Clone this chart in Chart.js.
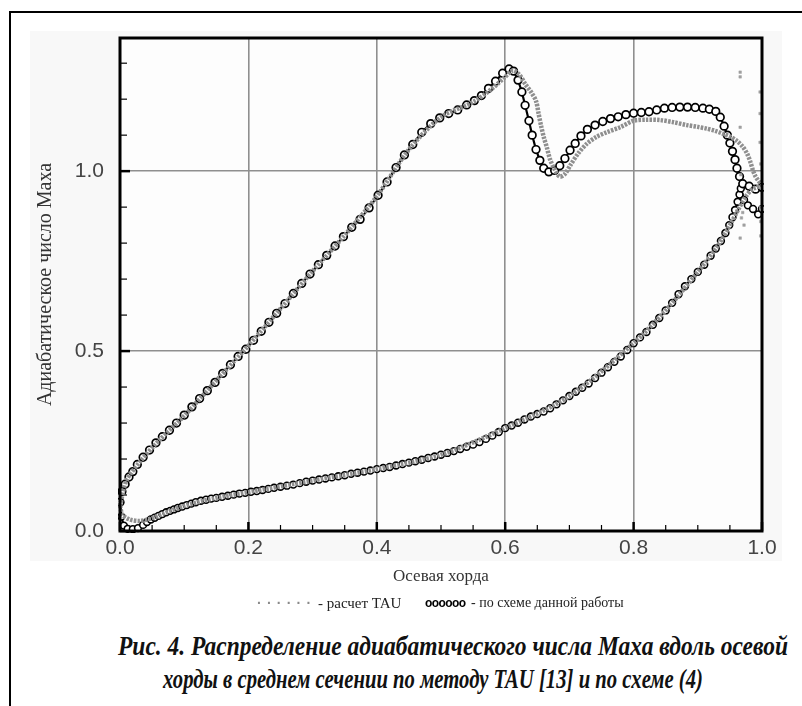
<!DOCTYPE html>
<html>
<head>
<meta charset="utf-8">
<script src="https://cdn.jsdelivr.net/npm/chart.js@4.4.1/dist/chart.umd.min.js"></script>
<style>
  body { margin: 0; background: #fff; width: 802px; height: 706px; overflow: hidden; position: relative; }
  #frame { position: absolute; left: 9px; top: 11px; width: 800px; height: 700px; border-top: 2px solid #000; border-left: 2px solid #000; }
  #panel { position: absolute; left: 30px; top: 31px; width: 752px; height: 530px; background: #f8f8f8; }
  #wrap { position: absolute; left: 0; top: 0; width: 802px; height: 600px; }
  .lg { position: absolute; top: 595px; font: 15px "Liberation Serif", "DejaVu Serif", serif; color: #222; white-space: nowrap; }
  .dots { color: #8a8a8a; font: bold 14px "Liberation Sans", sans-serif; letter-spacing: 6px; top: 591px; }
  .rings { font: bold 12px "Liberation Sans", sans-serif; letter-spacing: -0.6px; color: #000; top: 596px; }
  .cap { position: absolute; left: 0; font: italic bold 27px "Liberation Serif", "DejaVu Serif", serif; color: #111; white-space: nowrap; transform-origin: 0 0; }
</style>
</head>
<body>
<div id="frame"></div>
<div id="panel"></div>
<div id="wrap"><canvas id="myChart"></canvas></div>
<span class="lg dots" style="left:257px">......</span>
<span class="lg" style="left:318px">- расчет TAU</span>
<span class="lg rings" style="left:425px">oooooo</span>
<span class="lg" style="left:471px; font-size:14px">- по схеме данной работы</span>
<div class="cap" id="cap1" data-left="118" data-width="670" style="top:631px">Рис. 4. Распределение адиабатического числа Маха вдоль осевой</div>
<div class="cap" id="cap2" data-left="163" data-width="540" style="top:664px">хорды в среднем сечении по методу TAU [13] и по схеме (4)</div>
<script>
// axis chord values and adiabatic Mach number
let upperX = [0.000, 0.003, 0.008, 0.014, 0.020, 0.027, 0.036, 0.046, 0.056, 0.066, 0.077, 0.088, 0.100, 0.112, 0.124, 0.136, 0.148, 0.160, 0.172, 0.184, 0.196, 0.208, 0.220, 0.232, 0.244, 0.257, 0.270, 0.283, 0.296, 0.309, 0.322, 0.335, 0.348, 0.361, 0.374, 0.388, 0.402, 0.416, 0.430, 0.443, 0.456, 0.470, 0.484, 0.498, 0.512, 0.526, 0.540, 0.552, 0.563, 0.574, 0.585, 0.596, 0.606, 0.613, 0.620, 0.626, 0.631, 0.637, 0.642, 0.648, 0.654, 0.660, 0.668, 0.677, 0.685, 0.693, 0.701, 0.709, 0.718, 0.728, 0.740, 0.752, 0.764, 0.776, 0.788, 0.800, 0.812, 0.824, 0.836, 0.848, 0.860, 0.872, 0.884, 0.896, 0.908, 0.918, 0.928, 0.935, 0.941, 0.946, 0.950, 0.954, 0.958, 0.961, 0.965, 0.970, 0.980, 0.990, 1.000];
let upperM = [0.080, 0.110, 0.130, 0.150, 0.165, 0.185, 0.205, 0.225, 0.245, 0.262, 0.280, 0.300, 0.322, 0.345, 0.368, 0.390, 0.413, 0.438, 0.462, 0.485, 0.505, 0.530, 0.555, 0.580, 0.605, 0.632, 0.660, 0.688, 0.714, 0.740, 0.766, 0.792, 0.818, 0.844, 0.866, 0.898, 0.933, 0.970, 1.010, 1.045, 1.074, 1.108, 1.132, 1.148, 1.160, 1.170, 1.184, 1.196, 1.210, 1.230, 1.250, 1.272, 1.284, 1.278, 1.253, 1.220, 1.183, 1.140, 1.100, 1.060, 1.030, 1.008, 0.998, 1.002, 1.015, 1.035, 1.058, 1.077, 1.098, 1.116, 1.128, 1.138, 1.146, 1.151, 1.157, 1.161, 1.163, 1.165, 1.170, 1.175, 1.177, 1.178, 1.178, 1.177, 1.175, 1.172, 1.166, 1.150, 1.125, 1.100, 1.078, 1.055, 1.032, 1.008, 0.985, 0.965, 0.958, 0.950, 0.955];

let lowerX = [0.000, 0.002, 0.006, 0.012, 0.020, 0.028, 0.036, 0.042, 0.048, 0.054, 0.060, 0.066, 0.072, 0.078, 0.084, 0.090, 0.097, 0.104, 0.111, 0.118, 0.126, 0.134, 0.142, 0.150, 0.159, 0.168, 0.177, 0.186, 0.195, 0.204, 0.213, 0.222, 0.231, 0.240, 0.250, 0.260, 0.270, 0.280, 0.290, 0.300, 0.310, 0.320, 0.330, 0.340, 0.350, 0.360, 0.370, 0.380, 0.390, 0.400, 0.410, 0.420, 0.430, 0.440, 0.450, 0.460, 0.470, 0.480, 0.490, 0.500, 0.510, 0.520, 0.530, 0.540, 0.550, 0.560, 0.570, 0.580, 0.590, 0.600, 0.610, 0.620, 0.630, 0.640, 0.650, 0.660, 0.670, 0.680, 0.690, 0.700, 0.710, 0.720, 0.730, 0.740, 0.750, 0.760, 0.770, 0.780, 0.790, 0.800, 0.810, 0.820, 0.830, 0.840, 0.850, 0.860, 0.870, 0.880, 0.890, 0.900, 0.910, 0.920, 0.928, 0.936, 0.943, 0.949, 0.954, 0.958, 0.962, 0.965, 0.967, 0.972, 0.978, 0.986, 0.994, 1.000];
let lowerM = [0.080, 0.040, 0.015, 0.006, 0.005, 0.008, 0.017, 0.025, 0.032, 0.037, 0.042, 0.047, 0.052, 0.056, 0.060, 0.064, 0.068, 0.072, 0.076, 0.080, 0.084, 0.087, 0.090, 0.092, 0.095, 0.098, 0.101, 0.104, 0.106, 0.109, 0.111, 0.114, 0.117, 0.120, 0.123, 0.126, 0.129, 0.133, 0.137, 0.140, 0.143, 0.146, 0.149, 0.152, 0.155, 0.159, 0.162, 0.165, 0.168, 0.172, 0.175, 0.178, 0.182, 0.186, 0.190, 0.194, 0.198, 0.203, 0.207, 0.212, 0.217, 0.222, 0.228, 0.234, 0.240, 0.247, 0.256, 0.265, 0.275, 0.286, 0.293, 0.301, 0.310, 0.318, 0.325, 0.332, 0.341, 0.352, 0.363, 0.375, 0.387, 0.398, 0.410, 0.425, 0.440, 0.455, 0.470, 0.485, 0.503, 0.522, 0.538, 0.553, 0.573, 0.592, 0.613, 0.634, 0.658, 0.680, 0.700, 0.720, 0.740, 0.765, 0.785, 0.806, 0.828, 0.850, 0.872, 0.892, 0.915, 0.935, 0.952, 0.920, 0.905, 0.895, 0.880, 0.895];

// TAU reference calculation
let tauUpperX = [0.000, 0.010, 0.030, 0.060, 0.100, 0.150, 0.200, 0.250, 0.300, 0.350, 0.400, 0.450, 0.500, 0.550, 0.580, 0.600, 0.612, 0.622, 0.632, 0.641, 0.648, 0.652, 0.656, 0.660, 0.665, 0.670, 0.677, 0.685, 0.693, 0.702, 0.714, 0.727, 0.742, 0.758, 0.779, 0.800, 0.820, 0.841, 0.862, 0.883, 0.900, 0.914, 0.927, 0.939, 0.950, 0.961, 0.970, 0.977, 0.982, 0.986, 0.990, 0.995, 1.000];
let tauUpperM = [0.070, 0.140, 0.190, 0.250, 0.320, 0.418, 0.515, 0.618, 0.722, 0.822, 0.930, 1.060, 1.150, 1.192, 1.230, 1.262, 1.280, 1.268, 1.240, 1.218, 1.195, 1.160, 1.125, 1.095, 1.065, 1.032, 1.005, 0.985, 0.992, 1.018, 1.050, 1.076, 1.095, 1.108, 1.122, 1.140, 1.143, 1.142, 1.136, 1.128, 1.123, 1.118, 1.112, 1.104, 1.096, 1.084, 1.068, 1.048, 1.025, 1.002, 0.985, 0.972, 0.960];
let tauLowerX = [0.000, 0.004, 0.015, 0.030, 0.045, 0.070, 0.100, 0.150, 0.200, 0.300, 0.400, 0.500, 0.600, 0.700, 0.800, 0.850, 0.900, 0.930, 0.950, 0.965, 0.975, 0.985, 1.000];
let tauLowerM = [0.070, 0.045, 0.032, 0.028, 0.033, 0.050, 0.070, 0.092, 0.108, 0.140, 0.172, 0.212, 0.286, 0.375, 0.522, 0.613, 0.720, 0.790, 0.850, 0.900, 0.930, 0.950, 0.960];
let tauStrayX = [0.966, 0.966, 0.966, 0.967, 0.968, 0.970, 0.972, 0.966, 0.997, 0.997, 0.997, 0.998, 0.998, 0.998, 0.998];
let tauStrayM = [1.275, 1.262, 1.122, 0.990, 0.870, 0.885, 0.850, 0.814, 1.220, 1.160, 1.080, 1.020, 0.900, 0.860, 0.820];

// tick setup
let xStep = 0.05;
let yStep = 0.1;
let yMax = 1.37;

function zip(xs, ys) {
  let pts = [];
  for (i = 0; i < xs.length; i++) {
    pts.push({ x: xs[i], y: ys[i] });
  }
  return pts;
}

function isMult(v, m) {
  return Math.abs(v / m - Math.round(v / m)) < 1e-6;
}

document.addEventListener("DOMContentLoaded", function() {
  const gray = "#8f8f8f";

  // squeeze caption lines to the width they have in the scan
  document.querySelectorAll(".cap").forEach((el) => {
    const w = el.getBoundingClientRect().width;
    el.style.left = el.dataset.left + "px";
    el.style.transform = "scaleX(" + (parseFloat(el.dataset.width) / w) + ")";
  });

  const frameAndTicks = {
    id: "frameAndTicks",
    beforeDatasetsDraw(chart) {
      const { ctx, chartArea: a, scales } = chart;
      ctx.save();
      ctx.strokeStyle = "#000";
      // inward ticks on bottom axis
      scales.x.ticks.forEach((t) => {
        const px = scales.x.getPixelForValue(t.value);
        const major = isMult(t.value, 0.2);
        ctx.lineWidth = major ? 2.5 : 1.2;
        ctx.beginPath();
        ctx.moveTo(px, a.bottom);
        ctx.lineTo(px, a.bottom - (major ? 9 : 6));
        ctx.stroke();
      });
      // inward ticks on left axis
      scales.y.ticks.forEach((t) => {
        const py = scales.y.getPixelForValue(t.value);
        const major = isMult(t.value, 0.5);
        ctx.lineWidth = major ? 2.5 : 1.2;
        ctx.beginPath();
        ctx.moveTo(a.left, py);
        ctx.lineTo(a.left + (major ? 10 : 7), py);
        ctx.stroke();
      });
      ctx.restore();
    },
    afterDatasetsDraw(chart) {
      const { ctx, chartArea: a } = chart;
      ctx.save();
      ctx.strokeStyle = "#000";
      ctx.lineWidth = 3;
      ctx.strokeRect(a.left, a.top, a.right - a.left, a.bottom - a.top);
      ctx.restore();
    },
  };

  const whiteArea = {
    id: "whiteArea",
    beforeDraw(chart) {
      const { ctx, chartArea: a } = chart;
      ctx.save();
      ctx.fillStyle = "#fdfdfd";
      ctx.fillRect(a.left, a.top, a.right - a.left, a.bottom - a.top);
      ctx.restore();
    },
  };

  const data = {
    datasets: [
      {
        label: "расчет TAU (scatter)",
        data: zip(tauStrayX, tauStrayM),
        showLine: false,
        pointStyle: "rect",
        pointRadius: 1.8,
        backgroundColor: "#a0a0a0",
        borderColor: "#a0a0a0",
        borderWidth: 0.5,
      },
      {
        label: "расчет TAU",
        data: zip(tauUpperX, tauUpperM),
        showLine: true,
        borderColor: gray,
        borderWidth: 4.5,
        borderDash: [2.5, 1.2],
        pointRadius: 0,
        tension: 0.3,
      },
      {
        label: "расчет TAU (нижняя)",
        data: zip(tauLowerX, tauLowerM),
        showLine: true,
        borderColor: gray,
        borderWidth: 4.5,
        borderDash: [2.5, 1.2],
        pointRadius: 0,
        tension: 0.3,
      },
      {
        label: "по схеме данной работы",
        data: zip(upperX, upperM),
        showLine: true,
        borderColor: "#000",
        borderWidth: 2.2,
        pointRadius: 3.8,
        pointBorderWidth: 1.7,
        pointBackgroundColor: "#fff",
        pointBorderColor: "#000",
        tension: 0,
      },
      {
        label: "по схеме данной работы (нижняя)",
        data: zip(lowerX, lowerM),
        showLine: true,
        borderColor: "#000",
        borderWidth: 2.2,
        pointRadius: 3.4,
        pointBorderWidth: 1.6,
        pointBackgroundColor: "#fff",
        pointBorderColor: "#000",
        tension: 0,
      },
    ],
  };

  const config = {
    type: "scatter",
    data: data,
    options: {
      responsive: true,
      maintainAspectRatio: false,
      animation: false,
      clip: 2,
      layout: { padding: { top: 38, right: 40, left: 30, bottom: 0 } },
      plugins: {
        legend: { display: false },
        tooltip: { enabled: false },
      },
      scales: {
        x: {
          type: "linear",
          min: 0,
          max: 1,
          afterFit: (s) => { s.height = 69; },
          ticks: {
            stepSize: xStep,
            autoSkip: false,
            maxRotation: 0,
            padding: 5,
            color: "#444",
            font: { family: "Liberation Sans", size: 21 },
            callback: (v) => (isMult(v, 0.2) ? v.toFixed(1) : ""),
          },
          grid: {
            drawTicks: false,
            lineWidth: 1.6,
            color: (c) => (c.tick && isMult(c.tick.value, 0.2) && c.tick.value > 0.01 && c.tick.value < 0.99 ? gray : "transparent"),
          },
          border: { display: false },
          title: {
            display: true,
            text: "Осевая хорда",
            color: "#333",
            font: { family: "Liberation Serif", size: 17 },
            padding: { top: 0, bottom: 13 },
          },
        },
        y: {
          type: "linear",
          min: 0,
          max: yMax,
          afterFit: (s) => { s.width = 90; },
          ticks: {
            stepSize: yStep,
            includeBounds: false,
            autoSkip: false,
            padding: 16,
            color: "#444",
            font: { family: "Liberation Sans", size: 21 },
            callback: (v) => (isMult(v, 0.5) ? v.toFixed(1) : ""),
          },
          grid: {
            drawTicks: false,
            lineWidth: 1.6,
            color: (c) => (c.tick && isMult(c.tick.value, 0.5) && c.tick.value > 0.01 ? gray : "transparent"),
          },
          border: { display: false },
          title: {
            display: true,
            text: "Адиабатическое число Маха",
            color: "#333",
            font: { family: "Liberation Serif", size: 20 },
            padding: { top: 4, bottom: 0 },
          },
        },
      },
    },
    plugins: [whiteArea, frameAndTicks],
  };

  const myChart = new Chart(document.getElementById("myChart"), config);
});
</script>
</body>
</html>
